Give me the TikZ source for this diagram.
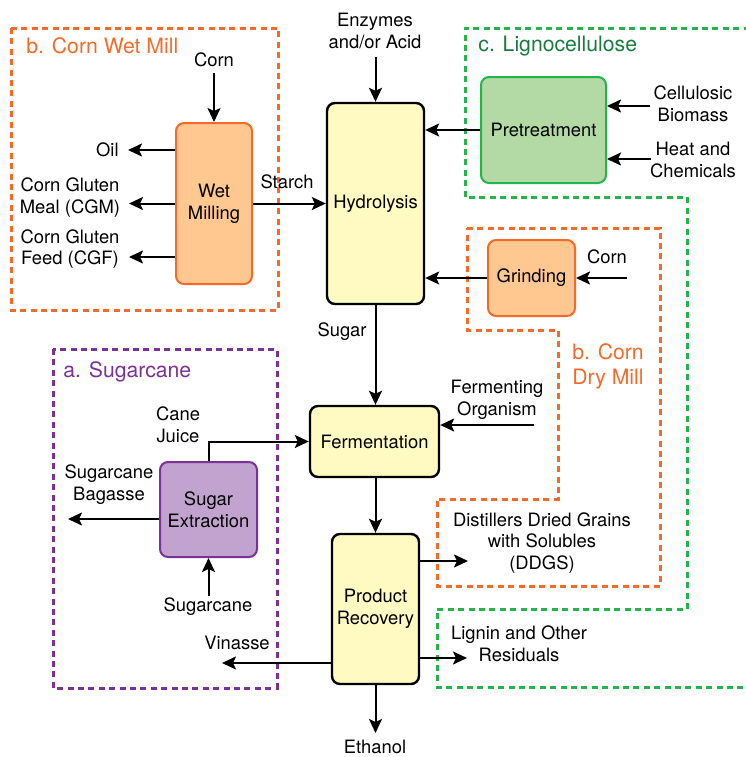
\documentclass[tikz,border=0pt]{standalone}
\usepackage{fontspec}
\setmainfont{TeX Gyre Heros}
\usetikzlibrary{positioning,arrows.meta,calc}
\tikzset{>={Stealth[length=7pt,width=6.5pt,inset=1.5pt]}}
\definecolor{orgline}{HTML}{F26B2A}
\definecolor{orgfill}{HTML}{FFC891}
\definecolor{grnline}{HTML}{27B34B}
\definecolor{grnfill}{HTML}{B3DAA4}
\definecolor{grntext}{HTML}{1B7B3E}
\definecolor{purline}{HTML}{7A3296}
\definecolor{purfill}{HTML}{C2A3CF}
\definecolor{yelfill}{HTML}{FFF9C2}

\begin{document}
\begin{tikzpicture}[x=0.5pt,y=-0.5pt,
  every node/.style={font=\fontsize{9.2}{10.8}\selectfont, align=center, inner sep=0pt},
  proc/.style={draw, rounded corners=4pt, line width=1pt},
  yel/.style={proc, fill=yelfill, draw=black, line width=1.2pt},
  flow/.style={->, line width=1pt},
  region/.style={dash pattern=on 3pt off 2.2pt, line width=1.5pt},
  title/.style={font=\fontsize{10.6}{12.5}\selectfont, anchor=west}]
\useasboundingbox (0,0) rectangle (746,757);

% dashed regions
\draw[region, orgline] (11,28) rectangle (278,310);
\draw[region, orgline] (467,228) -- (660,228) -- (660,586) -- (437,586) -- (437,499)
  -- (558,499) -- (558,330) -- (467,330) -- cycle;
\draw[region, grnline] (760,28) -- (465,28) -- (465,197) -- (687,197) -- (687,609)
  -- (437,609) -- (437,687) -- (760,687);
\draw[region, purline] (53,349) rectangle (277,688);

\node[title, text=orgline] (wettitle) at (26,46) {b. Corn Wet Mill};
\node[title, text=grntext] (lignotitle) at (478,46) {c. Lignocellulose};
\node[title, text=purline] (canetitle) at (63,372) {a. Sugarcane};
\node[title, anchor=center, text=orgline] (drytitle) at (608,366) {b. Corn\\Dry Mill};

% process boxes
\node[proc, fill=orgfill, draw=orgline, minimum width=38pt, minimum height=80.5pt] (wet) at (214,203.5) {Wet\\Milling};
\node[yel, minimum width=48.5pt, minimum height=100.5pt] (hydro) at (375.5,203.5) {Hydrolysis};
\node[proc, fill=grnfill, draw=grnline, minimum width=62.5pt, minimum height=53pt] (pre) at (543.5,130) {Pretreatment};
\node[proc, fill=orgfill, draw=orgline, minimum width=43.5pt, minimum height=38pt] (grind) at (531.5,278) {Grinding};
\node[yel, minimum width=64.5pt, minimum height=35.5pt] (ferm) at (374.5,441.5) {Fermentation};
\node[yel, minimum width=43.5pt, minimum height=75pt] (recov) at (375.5,609) {Product\\Recovery};
\node[proc, fill=purfill, draw=purline, minimum width=48.5pt, minimum height=47.5pt] (extract) at (208.5,509.5) {Sugar\\Extraction};

% inputs and outputs
\node (corn1) at (214,60) {Corn};
\node[anchor=east] (oil) at (119,150) {Oil};
\node (cgm) at (70,197.5) {Corn Gluten\\Meal (CGM)};
\node (cgf) at (70,249) {Corn Gluten\\Feed (CGF)};
\node (starch) at (287,182) {Starch};
\node (enz) at (375,31) {Enzymes\\and/or Acid};
\node (biomass) at (693,103.5) {Cellulosic\\Biomass};
\node (heat) at (693,160) {Heat and\\Chemicals};
\node (corn2) at (607,257) {Corn};
\node (sugar) at (342,332) {Sugar};
\node (organism) at (497,400) {Fermenting\\Organism};
\node (ddgs) at (542,543) {Distillers Dried Grains\\with Solubles\\(DDGS)};
\node (lignin) at (519,644) {Lignin and Other\\Residuals};
\node (ethanol) at (375,747) {Ethanol};
\node (vinasse) at (237,643) {Vinasse};
\node (juice) at (178,424.5) {Cane\\Juice};
\node (bagasse) at (109,484.5) {Sugarcane\\Bagasse};
\node (cane) at (208,607) {Sugarcane};

\coordinate (corntip) at (214,73);
\coordinate (oiltip) at (128,150);
\coordinate (cgmtip) at (129,203.5);
\coordinate (cgftip) at (129,257);
\coordinate (enztip) at (375.5,57);
\coordinate (biotail) at (650,106);
\coordinate (heattail) at (651,159);
\coordinate (corn2tail) at (627,278);
\coordinate (orgtail) at (534,425);
\coordinate (ddgstip) at (468,561);
\coordinate (lignintip) at (467,658);
\coordinate (ethtip) at (375.5,733);
\coordinate (vintip) at (222,663);
\coordinate (bagtip) at (68,519);
\coordinate (canetail) at (208.5,596);

\draw[flow] (corntip) -- (wet.north);
\draw[flow] (wet.west |- oiltip) -- (oiltip);
\draw[flow] (wet.west |- cgmtip) -- (cgmtip);
\draw[flow] (wet.west |- cgftip) -- (cgftip);
\draw[flow] (wet.east |- hydro.west) -- (hydro.west);
\draw[flow] (enztip) -- (hydro.north);
\draw[flow] (pre.west) -- (pre.west -| hydro.east);
\draw[flow] (biotail) -- (biotail -| pre.east);
\draw[flow] (heattail) -- (heattail -| pre.east);
\draw[flow] (grind.west) -- (grind.west -| hydro.east);
\draw[flow] (corn2tail) -- (grind.east);
\draw[flow] (hydro.south) -- (hydro.south |- ferm.north);
\draw[flow] (orgtail) -- (orgtail -| ferm.east);
\draw[flow] (recov.north |- ferm.south) -- (recov.north);
\draw[flow] (recov.east |- ddgstip) -- (ddgstip);
\draw[flow] (recov.east |- lignintip) -- (lignintip);
\draw[flow] (recov.south) -- (ethtip);
\draw[flow] (recov.west |- vintip) -- (vintip);
\draw[flow] (extract.north) |- (ferm.west);
\draw[flow] (extract.west |- bagtip) -- (bagtip);
\draw[flow] (canetail) -- (extract.south);
\end{tikzpicture}
\end{document}
